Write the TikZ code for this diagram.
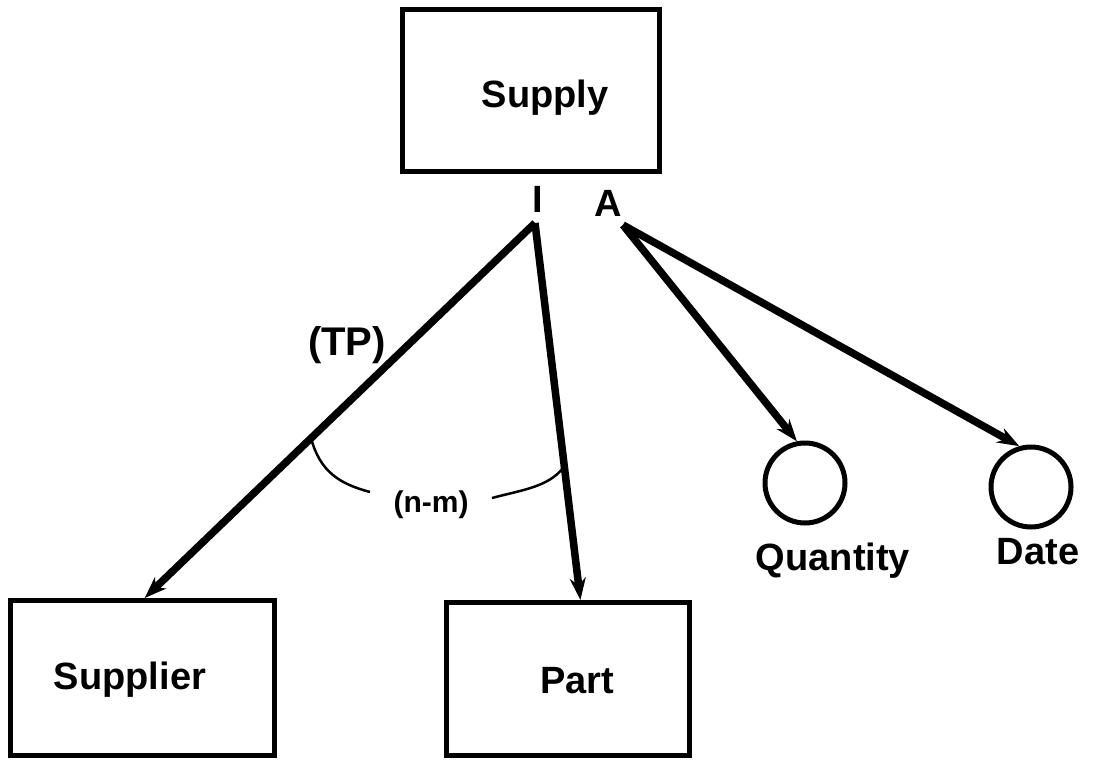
\documentclass[tikz,border=0pt]{standalone}
\usepackage{fontspec}
\setmainfont{Liberation Sans}
\usetikzlibrary{arrows.meta,calc}
\begin{document}
\begin{tikzpicture}[x=1pt,y=-1pt,
  entity/.style={draw,line width=5pt,rectangle,inner sep=0pt},
  attr/.style={draw,line width=5pt,circle,minimum size=80pt,inner sep=0pt},
  lbl/.style={font=\fontsize{38}{40}\selectfont\bfseries,inner sep=0pt},
  small/.style={font=\fontsize{30}{32}\selectfont\bfseries,inner sep=0pt},
  link/.style={line width=7.5pt,-{Stealth[length=22pt,width=16pt]}},
  bracket/.style={line width=2.5pt}]
\useasboundingbox (0,0) rectangle (1094,762);

% entity boxes
\node[entity,minimum width=257pt,minimum height=162pt] (supply) at (531,91) {};
\node[lbl] at (545,98) {Supply};
\node[entity,minimum width=264pt,minimum height=155pt] (supplier) at (142,678) {};
\node[lbl] at (130,680) {Supplier};
\node[entity,minimum width=243pt,minimum height=153pt] (part) at (568,679) {};
\node[lbl] at (577,681) {Part};

% attribute circles
\node[attr] (quantity) at (805,483) {};
\node[lbl,anchor=north] at (833,543) {Quantity};
\node[attr] (date) at (1031,487) {};
\node[lbl,anchor=north] at (1038,538) {Date};

% relationship markers
\node[lbl] (imark) at (538,199) {I};
\node[lbl] (amark) at (608,203) {A};
\coordinate (iapex) at (535,223);
\coordinate (aapex) at (623,225);

% connectors
\draw[link] (iapex) -- ($(supplier.north west)!0.51!(supplier.north east)$);
\draw[link] (iapex) -- ($(part.north west)!0.55!(part.north east)$);
\draw[link] (aapex) -- (quantity.101);
\draw[link] (aapex) -- (date.106);

% labels on the connectors
\node[lbl,font=\fontsize{40}{42}\selectfont\bfseries] (tp) at (347,345) {(TP)};
\node[small] (nm) at (431,505) {(n-m)};
\coordinate (bl) at (311,438);
\coordinate (br) at (563,468);
\draw[bracket] (bl) .. controls (320,472) and (340,484) .. (370,492);
\draw[bracket] (492,498) .. controls (522,490) and (548,487) .. (br);
\end{tikzpicture}
\end{document}
